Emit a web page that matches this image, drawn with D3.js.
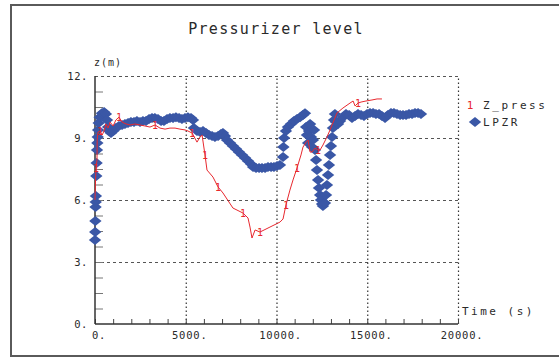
<!DOCTYPE html>
<html>
<head>
<meta charset="utf-8">
<script src="https://cdn.jsdelivr.net/npm/d3@7"></script>
<style>
  html, body { margin: 0; padding: 0; background: #fff; }
  svg { display: block; }
  text { font-family: "DejaVu Sans Mono", monospace; fill: #2a2a2a; }
</style>
</head>
<body>
<svg id="chart" width="559" height="360"></svg>
<script>
// ---- data -------------------------------------------------------------
const chartTitle = "Pressurizer level";
const yAxisTitle = "z(m)";
const xAxisTitle = "Time (s)";
const seriesNames = ["Z_press", "LPZR"];

// LPZR: level samples (time in s, level in m)
const lpzrTime = [
  0, 10, 20, 30, 40, 50, 70, 90, 110, 130, 150, 170, 200, 260, 380, 500, 600, 660, 720, 780,
  880, 1000, 1150, 1320, 1490, 1650, 1820, 1980, 2150, 2310, 2480, 2640, 2810, 2980, 3140, 3300,
  3470, 3640, 3800, 3970, 4130, 4300, 4460, 4630, 4790, 4960, 5120, 5290, 5400,
  5450, 5620, 5790, 5950, 6120, 6280, 6450, 6610, 6780, 6940, 7050, 7160, 7270, 7440, 7600, 7770,
  7930, 8100, 8270, 8430, 8600, 8710, 8870, 9040, 9200, 9370, 9530, 9700, 9860, 10030, 10190,
  10360, 10380, 10420, 10520, 10630, 10800, 10960, 11130, 11300, 11460, 11570,
  11630, 11680, 11740, 11790, 11850, 11900, 11960, 12010, 12070,
  12120, 12180, 12230, 12290, 12340, 12400, 12450, 12510, 12560,
  12670, 12730, 12780, 12840, 12890, 12950, 13000, 13060, 13110, 13170, 13220,
  13280, 13390, 13500, 13660, 13830, 14000, 14160, 14330, 14490, 14660, 14820, 14990, 15150,
  15320, 15480, 15650, 15810, 15980, 16140, 16310, 16470, 16640, 16810, 16970, 17140, 17300,
  17470, 17630, 17800, 17960
];
const lpzrLevel = [
  4.06, 4.45, 4.98, 5.66, 5.90, 6.19, 7.16, 7.79, 8.42, 8.76, 9.05, 9.39, 9.72, 10.0, 10.2, 10.26, 10.16, 9.87, 9.53, 9.34,
  9.24, 9.34, 9.48, 9.58, 9.63, 9.68, 9.72, 9.77, 9.77, 9.82, 9.77, 9.82, 9.82, 9.92, 9.97, 9.97,
  9.92, 9.82, 9.82, 9.92, 9.97, 9.97, 10.01, 9.97, 9.92, 9.97, 10.01, 9.97, 9.87,
  9.48, 9.34, 9.29, 9.34, 9.24, 9.14, 9.10, 9.05, 9.10, 9.19, 9.24, 9.10, 8.90, 8.76, 8.61, 8.47,
  8.32, 8.18, 8.03, 7.89, 7.74, 7.60, 7.55, 7.55, 7.55, 7.55, 7.60, 7.60, 7.60, 7.64, 7.69,
  8.08, 8.56, 9.0, 9.34, 9.53, 9.68, 9.82, 9.92, 10.01, 10.11, 10.2,
  9.53, 9.14, 8.76, 9.34, 9.68, 9.05, 8.56, 8.90, 9.39,
  8.42, 7.93, 7.45, 6.97, 6.58, 6.24, 6.0, 5.81, 5.71,
  5.85, 6.24, 6.72, 7.21, 7.69, 8.18, 8.61, 9.05, 9.48, 9.87, 10.16,
  9.77, 9.68, 9.82, 10.01, 10.16, 10.11, 9.97, 10.06, 10.16, 10.11, 10.06, 10.16, 10.21,
  10.21, 10.16, 10.16, 10.06, 9.97, 10.11, 10.21, 10.21, 10.16, 10.11, 10.11, 10.11, 10.16,
  10.16, 10.21, 10.21, 10.16
];

// Z_press: level samples (time in s, level in m)
const zpressTime = [
  0, 30, 60, 110, 120, 170, 280, 390, 500, 600, 720, 830, 1000, 1150, 1320, 1490, 1710, 1930,
  2200, 2480, 2760, 3030, 3310, 3580, 3860, 4130, 4410, 4680, 4960, 5120, 5350, 5620, 5790,
  5900, 6060, 6170, 6500, 6780, 7050, 7600, 8150, 8430, 8540, 8650, 8820, 9090, 9640, 10190,
  10360, 10520, 10740, 10910, 11130, 11350, 11460, 11630, 11740, 11850, 11960, 12120, 12290,
  12400, 12560, 12780, 12950, 13330, 13660, 14050, 14220, 14330, 14490, 14660, 14930, 15260,
  15540, 15810
];
const zpressLevel = [
  6.0, 6.97, 7.55, 7.93, 8.9, 9.29, 9.34, 9.14, 9.34, 9.68, 9.48, 9.77, 9.58, 9.87, 10.01, 9.77, 9.68, 9.63,
  9.68, 9.63, 9.58, 9.53, 9.63, 9.48, 9.43, 9.48, 9.48, 9.43, 9.39, 9.34, 9.24, 8.80, 9.05,
  9.14, 8.18, 7.45, 7.11, 6.63, 6.34, 5.61, 5.37, 5.13, 4.69, 4.16, 4.55, 4.45, 4.69, 4.93,
  5.08, 5.76, 6.48, 6.97, 7.55, 8.18, 8.56, 8.80, 8.90, 8.32, 8.32, 8.51, 8.42,
  8.42, 8.66, 9.05, 9.39, 10.21, 10.45, 10.69, 10.79, 10.55, 10.69, 10.74, 10.79, 10.84,
  10.89, 10.89
];
// samples of Z_press that carry the curve symbol "1"
const zpressSymbolTimes = [60, 280, 1320, 3310, 5350, 6060, 6780, 8150, 9090, 10520, 11130, 12290, 14490];

const xTickValues = [0, 5000, 10000, 15000, 20000];
const yTickValues = [0, 3, 6, 9, 12];

// ---- layout -----------------------------------------------------------
const svg = d3.select("#chart");
const plot = { left: 95, right: 458, top: 76, bottom: 324 };

const x = d3.scaleLinear().domain([0, 20000]).range([plot.left, plot.right]);
const y = d3.scaleLinear().domain([0, 12]).range([plot.bottom, plot.top]);

const blue = "#3a57a6";
const red = "#e8282e";

// outer frame
svg.append("rect")
  .attr("x", 11).attr("y", 5).attr("width", 560).attr("height", 351)
  .attr("fill", "none").attr("stroke", "#5a5a5a").attr("stroke-width", 2);

// title
svg.append("text")
  .attr("x", 276).attr("y", 34)
  .attr("text-anchor", "middle")
  .style("font-size", "15px").style("letter-spacing", "1.3px")
  .text(chartTitle);

// horizontal dashed grid (including the top edge at 12)
svg.append("g")
  .attr("transform", `translate(${plot.left},0)`)
  .call(d3.axisRight(y).tickValues([3, 6, 9, 12]).tickSize(plot.right - plot.left).tickFormat(""))
  .call(g => g.select(".domain").remove())
  .call(g => g.selectAll("line").attr("stroke", "#555").attr("stroke-dasharray", "3,3"));

// vertical dotted grid (including the right edge at 20000)
svg.append("g")
  .attr("transform", `translate(0,${plot.bottom})`)
  .call(d3.axisTop(x).tickValues([5000, 10000, 15000, 20000]).tickSize(plot.bottom - plot.top).tickFormat(""))
  .call(g => g.select(".domain").remove())
  .call(g => g.selectAll("line").attr("stroke", "#333").attr("stroke-width", 1.2).attr("stroke-dasharray", "1.5,2.5"));

// minor ticks, pointing into the plot
svg.append("g")
  .attr("transform", `translate(0,${plot.bottom})`)
  .call(d3.axisTop(x).ticks(20).tickSize(5).tickFormat(""))
  .call(g => g.select(".domain").remove())
  .call(g => g.selectAll("line").attr("stroke", "#444"));
svg.append("g")
  .attr("transform", `translate(${plot.left},0)`)
  .call(d3.axisRight(y).tickValues(d3.range(0.75, 12, 0.75)).tickSize(8).tickFormat(""))
  .call(g => g.select(".domain").remove())
  .call(g => g.selectAll("line").attr("stroke", "#777"));

// axis lines
svg.append("line")
  .attr("x1", plot.left).attr("x2", plot.right).attr("y1", plot.bottom).attr("y2", plot.bottom)
  .attr("stroke", "#333").attr("stroke-width", 1.5);
svg.append("line")
  .attr("x1", plot.left).attr("x2", plot.left).attr("y1", plot.top).attr("y2", plot.bottom)
  .attr("stroke", "#333").attr("stroke-width", 1.5);

// axis labels
const xLab = svg.append("g")
  .attr("transform", `translate(0,${plot.bottom})`)
  .call(d3.axisBottom(x).tickValues(xTickValues).tickSize(0).tickPadding(0).tickFormat(d => d + "."))
  .call(g => g.select(".domain").remove());
xLab.selectAll("text")
  .attr("y", 15).attr("dy", 0)
  .style("font-size", "10.5px").style("letter-spacing", "0.8px")
  .attr("text-anchor", "start")
  .attr("fill", "#2a2a2a")
  .style("font-family", "'DejaVu Sans Mono', monospace")
  .each(function () {
    const n = this.textContent.length - 1;
    const w = this.getSubStringLength(0, n);
    d3.select(this).attr("x", -w / 2);
  });

svg.append("g")
  .attr("transform", `translate(${plot.left},0)`)
  .call(d3.axisLeft(y).tickValues(yTickValues).tickSize(0).tickPadding(7).tickFormat(d => d + "."))
  .call(g => g.select(".domain").remove())
  .call(g => g.selectAll("text")
    .attr("dy", "0.35em")
    .attr("fill", "#2a2a2a")
    .style("font-family", "'DejaVu Sans Mono', monospace")
    .style("font-size", "10.5px").style("letter-spacing", "0.6px"));

svg.append("text")
  .attr("x", 94).attr("y", 66)
  .style("font-size", "10px").style("letter-spacing", "1px")
  .text(yAxisTitle);
svg.append("text")
  .attr("x", 462).attr("y", 315)
  .style("font-size", "11px").style("letter-spacing", "2.5px")
  .text(xAxisTitle);

// ---- series -----------------------------------------------------------
const diamond = "M0,-5L6.2,0L0,5L-6.2,0Z";

const lpzr = lpzrTime.map((t, i) => ({ t, v: lpzrLevel[i] }));
const zpress = zpressTime.map((t, i) => ({ t, v: zpressLevel[i] }));

svg.append("g")
  .selectAll("path")
  .data(lpzr)
  .join("path")
  .attr("d", diamond)
  .attr("transform", d => `translate(${x(d.t)},${y(d.v)})`)
  .attr("fill", blue);

svg.append("path")
  .datum(zpress)
  .attr("fill", "none")
  .attr("stroke", red)
  .attr("stroke-width", 1)
  .attr("d", d3.line().x(d => x(d.t)).y(d => y(d.v)));

svg.append("g")
  .selectAll("text")
  .data(zpress.filter(d => zpressSymbolTimes.includes(d.t)))
  .join("text")
  .attr("x", d => x(d.t))
  .attr("y", d => y(d.v))
  .attr("dy", "0.36em")
  .attr("text-anchor", "middle")
  .style("font-size", "10px")
  .style("fill", red)
  .text("1");

// ---- legend -----------------------------------------------------------
const legend = svg.append("g");
legend.append("text")
  .attr("x", 470).attr("y", 109).attr("text-anchor", "middle")
  .style("font-size", "11px").style("fill", red).text("1");
legend.append("text")
  .attr("x", 483).attr("y", 109)
  .style("font-size", "11px").style("letter-spacing", "2.6px")
  .text(seriesNames[0]);
legend.append("path")
  .attr("d", diamond)
  .attr("transform", "translate(475,122)")
  .attr("fill", blue);
legend.append("text")
  .attr("x", 483).attr("y", 126)
  .style("font-size", "11px").style("letter-spacing", "2.6px")
  .text(seriesNames[1]);
</script>
</body>
</html>
